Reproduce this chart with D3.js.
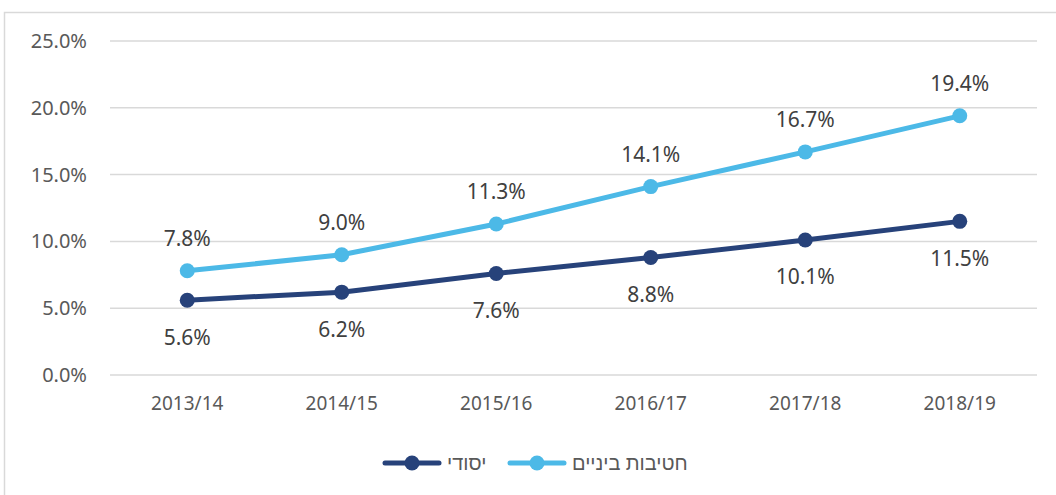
<!DOCTYPE html>
<html>
<head>
<meta charset="utf-8">
<script src="https://cdn.jsdelivr.net/npm/d3@7"></script>
<style>
  body { margin: 0; background: #fff; }
  svg { display: block; }
</style>
</head>
<body>
<div id="chart"></div>
<script>
// data
const years = ["2013/14", "2014/15", "2015/16", "2016/17", "2017/18", "2018/19"];
const middleSchool = [7.8, 9.0, 11.3, 14.1, 16.7, 19.4];   // חטיבות ביניים
const primary = [5.6, 6.2, 7.6, 8.8, 10.1, 11.5];           // יסודי
const yTicks = [0, 5, 10, 15, 20, 25];
const seriesNames = ["יסודי", "חטיבות ביניים"];

const W = 1056, H = 495;
const margin = { top: 41, right: 19, bottom: 120, left: 110 };
const width = W - margin.left - margin.right;
const height = H - margin.top - margin.bottom;
const font = "'Noto Sans', 'Liberation Sans', 'DejaVu Sans', sans-serif";

const svg = d3.select("#chart").append("svg")
    .attr("width", W)
    .attr("height", H);

// chart area frame
svg.append("rect")
    .attr("x", 4.5).attr("y", 12.5)
    .attr("width", W).attr("height", H)
    .attr("fill", "none")
    .attr("stroke", "#d9d9d9")
    .attr("stroke-width", 1.5);

const g = svg.append("g")
    .attr("transform", `translate(${margin.left},${margin.top})`);

const x = d3.scaleBand().domain(years).range([0, width]);
const y = d3.scaleLinear().domain([0, 25]).range([height, 0]);
const cx = d => x(d) + x.bandwidth() / 2;

// gridlines
g.selectAll(".grid")
    .data(yTicks)
    .enter().append("line")
    .attr("x1", 0).attr("x2", width)
    .attr("y1", d => y(d)).attr("y2", d => y(d))
    .attr("stroke", "#d9d9d9")
    .attr("stroke-width", 1.5);

// y axis labels
const yAxis = g.append("g")
    .call(d3.axisLeft(y).tickValues(yTicks).tickFormat(d => d.toFixed(1) + "%").tickSize(0).tickPadding(23));
yAxis.select(".domain").remove();
yAxis.selectAll("text")
    .style("font-family", font)
    .style("font-size", "20px")
    .attr("fill", "#595959");

// x axis labels
const xAxis = g.append("g")
    .attr("transform", `translate(0,${height})`)
    .call(d3.axisBottom(x).tickSize(0).tickPadding(22));
xAxis.select(".domain").remove();
xAxis.selectAll("text")
    .style("font-family", font)
    .style("font-size", "19px")
    .attr("fill", "#595959");

const series = [
    { name: seriesNames[1], values: middleSchool, color: "#4cb9e7", labelDy: -32 },
    { name: seriesNames[0], values: primary, color: "#27427a", labelDy: 37 }
];

const line = d3.line()
    .x((d, i) => cx(years[i]))
    .y(d => y(d));

series.forEach(s => {
    g.append("path")
        .datum(s.values)
        .attr("d", line)
        .attr("fill", "none")
        .attr("stroke", s.color)
        .attr("stroke-width", 5)
        .attr("stroke-linecap", "round");

    g.selectAll(null)
        .data(s.values)
        .enter().append("circle")
        .attr("cx", (d, i) => cx(years[i]))
        .attr("cy", d => y(d))
        .attr("r", 7.5)
        .attr("fill", s.color);

    g.selectAll(null)
        .data(s.values)
        .enter().append("text")
        .text(d => d.toFixed(1) + "%")
        .attr("x", (d, i) => cx(years[i]))
        .attr("y", d => y(d) + s.labelDy)
        .attr("dy", "0.35em")
        .attr("text-anchor", "middle")
        .style("font-family", font)
        .style("font-size", "21px")
        .attr("fill", "#404040");
});

// legend
const legendItems = [
    { name: seriesNames[0], color: "#27427a", x: 385 },
    { name: seriesNames[1], color: "#4cb9e7", x: 510 }
];
const legend = svg.append("g").attr("transform", "translate(0,463)");
legendItems.forEach(item => {
    legend.append("line")
        .attr("x1", item.x).attr("x2", item.x + 54)
        .attr("y1", 0).attr("y2", 0)
        .attr("stroke", item.color)
        .attr("stroke-width", 5)
        .attr("stroke-linecap", "round");
    legend.append("circle")
        .attr("cx", item.x + 27).attr("cy", 0)
        .attr("r", 7.5)
        .attr("fill", item.color);
    legend.append("text")
        .text(item.name)
        .attr("x", item.x + 62)
        .attr("y", 0)
        .attr("dy", "0.35em")
        .attr("direction", "rtl")
        .attr("text-anchor", "end")
        .style("font-family", font)
        .style("font-size", "20px")
        .attr("fill", "#595959");
});
</script>
</body>
</html>
